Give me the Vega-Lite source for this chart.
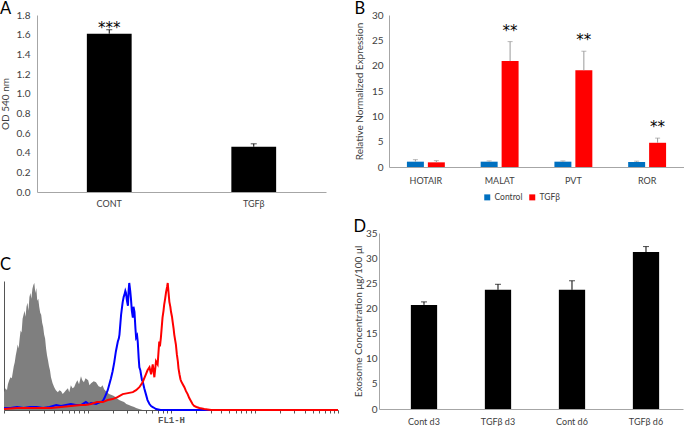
{
  "$schema": "https://vega.github.io/schema/vega-lite/v6.json",
  "padding": 0,
  "background": "white",
  "config": {
    "view": {"stroke": null},
    "font": "Lato",
    "axis": {"labelFont": "Lato", "labelFontSize": 10, "labelColor": "#404040", "labelOverlap": false, "titleFont": "Lato", "titleFontSize": 10, "titleFontWeight": "normal", "titleColor": "#404040", "domainColor": "#a6a6a6", "ticks": false, "grid": false},
    "legend": {"labelFont": "Lato", "labelFontSize": 8.5, "labelColor": "#404040"},
    "title": {"font": "Lato", "fontSize": 16.5, "fontWeight": "normal", "color": "#000000", "anchor": "start", "frame": "bounds", "baseline": "alphabetic", "offset": -7}
  },
  "resolve": {"scale": {"color": "independent"}, "legend": {"color": "independent"}},
  "spacing": 10,
  "vconcat": [
    {
      "spacing": 28,
      "resolve": {"scale": {"color": "independent"}, "legend": {"color": "independent"}},
      "hconcat": [
        {
          "width": 289, "height": 177,
          "title": {"text": "A"},
          "data": {"values": [
            {"group": "CONT", "od": 1.61, "hi": 1.65, "sig": "***"},
            {"group": "TGFβ", "od": 0.46, "hi": 0.49}
          ]},
          "encoding": {
            "x": {"field": "group", "type": "nominal", "sort": null, "scale": {"paddingInner": 0, "paddingOuter": 0}, "axis": {"title": null, "labelAngle": 0, "labelPadding": 7, "labelFontSize": 9}}
          },
          "layer": [
            {"mark": {"type": "bar", "color": "#000000", "width": {"band": 0.31}}, "encoding": {"y": {"field": "od", "type": "quantitative", "scale": {"domain": [0, 1.8], "nice": false}, "axis": {"values": [0, 0.2, 0.4, 0.6, 0.8, 1.0, 1.2, 1.4, 1.6, 1.8], "tickCount": 50, "format": ".1f", "labelOverlap": false, "title": "OD 540 nm", "labelPadding": 7, "titlePadding": 6}}}},
            {"mark": {"type": "rule", "color": "#000000"}, "encoding": {"y": {"field": "od", "type": "quantitative"}, "y2": {"field": "hi"}}},
            {"mark": {"type": "tick", "color": "#000000", "size": 6, "thickness": 1}, "encoding": {"y": {"field": "hi", "type": "quantitative"}}},
            {"transform": [{"filter": "datum.sig"}], "mark": {"type": "text", "font": "DejaVu Sans", "fontSize": 15, "dy": -2}, "encoding": {"y": {"field": "hi", "type": "quantitative"}, "text": {"field": "sig"}}}
          ]
        },
        {
          "width": 295, "height": 152,
          "title": {"text": "B"},
          "data": {"values": [
            {"gene": "HOTAIR", "group": "Control", "val": 1.05, "hi": 1.45},
            {"gene": "HOTAIR", "group": "TGFβ", "val": 0.92, "hi": 1.25},
            {"gene": "MALAT", "group": "Control", "val": 1.05, "hi": 1.2},
            {"gene": "MALAT", "group": "TGFβ", "val": 20.9, "hi": 24.75, "sig": "**"},
            {"gene": "PVT", "group": "Control", "val": 1.05, "hi": 1.2},
            {"gene": "PVT", "group": "TGFβ", "val": 19.1, "hi": 22.85, "sig": "**"},
            {"gene": "ROR", "group": "Control", "val": 1.0, "hi": 1.15},
            {"gene": "ROR", "group": "TGFβ", "val": 4.78, "hi": 5.7, "sig": "**"}
          ]},
          "encoding": {
            "x": {"field": "gene", "type": "nominal", "sort": null, "scale": {"paddingInner": 0, "paddingOuter": 0}, "axis": {"title": null, "labelAngle": 0, "labelPadding": 9, "labelFontSize": 9}},
            "xOffset": {"field": "group", "type": "nominal", "sort": ["Control", "TGFβ"], "scale": {"paddingInner": 0.19, "paddingOuter": 0.855}}
          },
          "layer": [
            {"mark": {"type": "bar"}, "encoding": {
              "y": {"field": "val", "type": "quantitative", "scale": {"domain": [0, 30], "nice": false}, "axis": {"values": [0, 5, 10, 15, 20, 25, 30], "tickCount": 50, "format": "d", "labelOverlap": false, "title": "Relative Normalized Expression", "labelPadding": 6, "titlePadding": 7}},
              "color": {"field": "group", "type": "nominal", "scale": {"domain": ["Control", "TGFβ"], "range": ["#0070C0", "#FF0000"]}, "legend": {"orient": "none", "legendX": 94, "legendY": 178, "direction": "horizontal", "title": null, "symbolType": "square", "symbolSize": 36, "symbolStrokeWidth": 0, "columnPadding": 5, "labelOffset": 3}}
            }},
            {"mark": {"type": "rule", "color": "#9a9a9a"}, "encoding": {"y": {"field": "val", "type": "quantitative"}, "y2": {"field": "hi"}}},
            {"mark": {"type": "tick", "color": "#9a9a9a", "size": 5, "thickness": 1}, "encoding": {"y": {"field": "hi", "type": "quantitative"}}},
            {"transform": [{"filter": "datum.sig"}], "mark": {"type": "text", "font": "DejaVu Sans", "fontSize": 15, "dy": -11}, "encoding": {"y": {"field": "hi", "type": "quantitative"}, "text": {"field": "sig"}}}
          ]
        }
      ]
    },
    {
      "spacing": -18,
      "hconcat": [
        {
          "width": 301, "height": 177,
          "title": {"text": "C", "offset": -40},
          "data": {"values": [
            {"sample": "unstained", "ch": 0, "count": 18}, {"sample": "unstained", "ch": 5, "count": 22}, {"sample": "unstained", "ch": 9, "count": 20}, {"sample": "unstained", "ch": 12, "count": 26},
            {"sample": "unstained", "ch": 16, "count": 30}, {"sample": "unstained", "ch": 20, "count": 33}, {"sample": "unstained", "ch": 24, "count": 32}, {"sample": "unstained", "ch": 27, "count": 38},
            {"sample": "unstained", "ch": 30, "count": 44}, {"sample": "unstained", "ch": 33, "count": 48}, {"sample": "unstained", "ch": 36, "count": 55}, {"sample": "unstained", "ch": 39, "count": 60},
            {"sample": "unstained", "ch": 42, "count": 66}, {"sample": "unstained", "ch": 45, "count": 62}, {"sample": "unstained", "ch": 48, "count": 72}, {"sample": "unstained", "ch": 51, "count": 80},
            {"sample": "unstained", "ch": 54, "count": 78}, {"sample": "unstained", "ch": 57, "count": 92}, {"sample": "unstained", "ch": 60, "count": 96}, {"sample": "unstained", "ch": 63, "count": 100},
            {"sample": "unstained", "ch": 66, "count": 94}, {"sample": "unstained", "ch": 69, "count": 104}, {"sample": "unstained", "ch": 72, "count": 108}, {"sample": "unstained", "ch": 75, "count": 100},
            {"sample": "unstained", "ch": 78, "count": 114}, {"sample": "unstained", "ch": 81, "count": 118}, {"sample": "unstained", "ch": 84, "count": 112}, {"sample": "unstained", "ch": 87, "count": 122},
            {"sample": "unstained", "ch": 90, "count": 126}, {"sample": "unstained", "ch": 93, "count": 128}, {"sample": "unstained", "ch": 96, "count": 118}, {"sample": "unstained", "ch": 99, "count": 123},
            {"sample": "unstained", "ch": 102, "count": 110}, {"sample": "unstained", "ch": 105, "count": 112}, {"sample": "unstained", "ch": 108, "count": 104}, {"sample": "unstained", "ch": 111, "count": 98},
            {"sample": "unstained", "ch": 114, "count": 96}, {"sample": "unstained", "ch": 117, "count": 88}, {"sample": "unstained", "ch": 120, "count": 84}, {"sample": "unstained", "ch": 123, "count": 76},
            {"sample": "unstained", "ch": 126, "count": 72}, {"sample": "unstained", "ch": 129, "count": 62}, {"sample": "unstained", "ch": 132, "count": 55}, {"sample": "unstained", "ch": 135, "count": 50},
            {"sample": "unstained", "ch": 138, "count": 44}, {"sample": "unstained", "ch": 141, "count": 40}, {"sample": "unstained", "ch": 144, "count": 33}, {"sample": "unstained", "ch": 149, "count": 27},
            {"sample": "unstained", "ch": 154, "count": 23}, {"sample": "unstained", "ch": 159, "count": 20}, {"sample": "unstained", "ch": 165, "count": 18}, {"sample": "unstained", "ch": 170, "count": 20},
            {"sample": "unstained", "ch": 175, "count": 19}, {"sample": "unstained", "ch": 180, "count": 16}, {"sample": "unstained", "ch": 185, "count": 18}, {"sample": "unstained", "ch": 190, "count": 20},
            {"sample": "unstained", "ch": 196, "count": 22}, {"sample": "unstained", "ch": 200, "count": 18}, {"sample": "unstained", "ch": 205, "count": 25}, {"sample": "unstained", "ch": 210, "count": 22},
            {"sample": "unstained", "ch": 215, "count": 23}, {"sample": "unstained", "ch": 220, "count": 27}, {"sample": "unstained", "ch": 225, "count": 30}, {"sample": "unstained", "ch": 230, "count": 26},
            {"sample": "unstained", "ch": 236, "count": 34}, {"sample": "unstained", "ch": 240, "count": 30}, {"sample": "unstained", "ch": 245, "count": 28}, {"sample": "unstained", "ch": 250, "count": 32},
            {"sample": "unstained", "ch": 258, "count": 30}, {"sample": "unstained", "ch": 262, "count": 25}, {"sample": "unstained", "ch": 267, "count": 27}, {"sample": "unstained", "ch": 275, "count": 29},
            {"sample": "unstained", "ch": 282, "count": 28}, {"sample": "unstained", "ch": 290, "count": 24}, {"sample": "unstained", "ch": 297, "count": 23}, {"sample": "unstained", "ch": 302, "count": 25},
            {"sample": "unstained", "ch": 307, "count": 21}, {"sample": "unstained", "ch": 315, "count": 18}, {"sample": "unstained", "ch": 322, "count": 16}, {"sample": "unstained", "ch": 330, "count": 15},
            {"sample": "unstained", "ch": 337, "count": 14}, {"sample": "unstained", "ch": 345, "count": 12}, {"sample": "unstained", "ch": 353, "count": 10}, {"sample": "unstained", "ch": 360, "count": 9},
            {"sample": "unstained", "ch": 368, "count": 8}, {"sample": "unstained", "ch": 375, "count": 6}, {"sample": "unstained", "ch": 383, "count": 5}, {"sample": "unstained", "ch": 390, "count": 4},
            {"sample": "unstained", "ch": 399, "count": 3}, {"sample": "unstained", "ch": 405, "count": 2}, {"sample": "unstained", "ch": 414, "count": 1}, {"sample": "unstained", "ch": 425, "count": 0},

            {"sample": "control", "ch": 0, "count": 2}, {"sample": "control", "ch": 20, "count": 2}, {"sample": "control", "ch": 40, "count": 3}, {"sample": "control", "ch": 60, "count": 2},
            {"sample": "control", "ch": 80, "count": 3}, {"sample": "control", "ch": 100, "count": 3}, {"sample": "control", "ch": 120, "count": 2}, {"sample": "control", "ch": 140, "count": 3},
            {"sample": "control", "ch": 160, "count": 5}, {"sample": "control", "ch": 175, "count": 4}, {"sample": "control", "ch": 190, "count": 5}, {"sample": "control", "ch": 205, "count": 6},
            {"sample": "control", "ch": 220, "count": 5}, {"sample": "control", "ch": 236, "count": 5}, {"sample": "control", "ch": 251, "count": 8}, {"sample": "control", "ch": 260, "count": 6},
            {"sample": "control", "ch": 267, "count": 7}, {"sample": "control", "ch": 282, "count": 6}, {"sample": "control", "ch": 295, "count": 8}, {"sample": "control", "ch": 303, "count": 9},
            {"sample": "control", "ch": 308, "count": 12}, {"sample": "control", "ch": 313, "count": 16}, {"sample": "control", "ch": 318, "count": 20}, {"sample": "control", "ch": 323, "count": 26},
            {"sample": "control", "ch": 328, "count": 32}, {"sample": "control", "ch": 333, "count": 39}, {"sample": "control", "ch": 338, "count": 48}, {"sample": "control", "ch": 343, "count": 59},
            {"sample": "control", "ch": 346, "count": 64}, {"sample": "control", "ch": 349, "count": 69}, {"sample": "control", "ch": 352, "count": 72}, {"sample": "control", "ch": 354, "count": 76},
            {"sample": "control", "ch": 357, "count": 88}, {"sample": "control", "ch": 359, "count": 96}, {"sample": "control", "ch": 362, "count": 104}, {"sample": "control", "ch": 364, "count": 109},
            {"sample": "control", "ch": 367, "count": 114}, {"sample": "control", "ch": 369, "count": 116}, {"sample": "control", "ch": 372, "count": 120}, {"sample": "control", "ch": 374, "count": 118},
            {"sample": "control", "ch": 377, "count": 110}, {"sample": "control", "ch": 380, "count": 105}, {"sample": "control", "ch": 382, "count": 120}, {"sample": "control", "ch": 384, "count": 128},
            {"sample": "control", "ch": 387, "count": 120}, {"sample": "control", "ch": 389, "count": 113}, {"sample": "control", "ch": 392, "count": 100}, {"sample": "control", "ch": 395, "count": 93},
            {"sample": "control", "ch": 397, "count": 104}, {"sample": "control", "ch": 400, "count": 99}, {"sample": "control", "ch": 403, "count": 82}, {"sample": "control", "ch": 405, "count": 73},
            {"sample": "control", "ch": 408, "count": 75}, {"sample": "control", "ch": 410, "count": 69}, {"sample": "control", "ch": 413, "count": 52}, {"sample": "control", "ch": 415, "count": 43},
            {"sample": "control", "ch": 418, "count": 40}, {"sample": "control", "ch": 420, "count": 36}, {"sample": "control", "ch": 423, "count": 30}, {"sample": "control", "ch": 425, "count": 29},
            {"sample": "control", "ch": 430, "count": 22}, {"sample": "control", "ch": 435, "count": 16}, {"sample": "control", "ch": 440, "count": 10}, {"sample": "control", "ch": 446, "count": 6},
            {"sample": "control", "ch": 451, "count": 4}, {"sample": "control", "ch": 456, "count": 3}, {"sample": "control", "ch": 461, "count": 2}, {"sample": "control", "ch": 466, "count": 1},
            {"sample": "control", "ch": 480, "count": 0}, {"sample": "control", "ch": 1024, "count": 0},

            {"sample": "TGFβ", "ch": 0, "count": 1}, {"sample": "TGFβ", "ch": 40, "count": 2}, {"sample": "TGFβ", "ch": 83, "count": 2}, {"sample": "TGFβ", "ch": 120, "count": 2},
            {"sample": "TGFβ", "ch": 144, "count": 2}, {"sample": "TGFβ", "ch": 175, "count": 3}, {"sample": "TGFβ", "ch": 205, "count": 4}, {"sample": "TGFβ", "ch": 236, "count": 5},
            {"sample": "TGFβ", "ch": 250, "count": 5}, {"sample": "TGFβ", "ch": 267, "count": 6}, {"sample": "TGFβ", "ch": 285, "count": 8}, {"sample": "TGFβ", "ch": 303, "count": 8},
            {"sample": "TGFβ", "ch": 318, "count": 10}, {"sample": "TGFβ", "ch": 333, "count": 11}, {"sample": "TGFβ", "ch": 348, "count": 13}, {"sample": "TGFβ", "ch": 364, "count": 16},
            {"sample": "TGFβ", "ch": 380, "count": 17}, {"sample": "TGFβ", "ch": 395, "count": 18}, {"sample": "TGFβ", "ch": 405, "count": 20}, {"sample": "TGFβ", "ch": 415, "count": 23},
            {"sample": "TGFβ", "ch": 425, "count": 28}, {"sample": "TGFβ", "ch": 435, "count": 36}, {"sample": "TGFβ", "ch": 440, "count": 40}, {"sample": "TGFβ", "ch": 446, "count": 43},
            {"sample": "TGFβ", "ch": 451, "count": 36}, {"sample": "TGFβ", "ch": 456, "count": 46}, {"sample": "TGFβ", "ch": 461, "count": 33}, {"sample": "TGFβ", "ch": 466, "count": 49},
            {"sample": "TGFβ", "ch": 471, "count": 46}, {"sample": "TGFβ", "ch": 476, "count": 69}, {"sample": "TGFβ", "ch": 478, "count": 64}, {"sample": "TGFβ", "ch": 481, "count": 73},
            {"sample": "TGFβ", "ch": 484, "count": 85}, {"sample": "TGFβ", "ch": 486, "count": 93}, {"sample": "TGFβ", "ch": 489, "count": 100}, {"sample": "TGFβ", "ch": 491, "count": 106},
            {"sample": "TGFβ", "ch": 494, "count": 112}, {"sample": "TGFβ", "ch": 497, "count": 119}, {"sample": "TGFβ", "ch": 500, "count": 124}, {"sample": "TGFβ", "ch": 502, "count": 128},
            {"sample": "TGFβ", "ch": 504, "count": 120}, {"sample": "TGFβ", "ch": 507, "count": 109}, {"sample": "TGFβ", "ch": 510, "count": 104}, {"sample": "TGFβ", "ch": 512, "count": 99},
            {"sample": "TGFβ", "ch": 515, "count": 94}, {"sample": "TGFβ", "ch": 517, "count": 89}, {"sample": "TGFβ", "ch": 520, "count": 82}, {"sample": "TGFβ", "ch": 522, "count": 76},
            {"sample": "TGFβ", "ch": 525, "count": 70}, {"sample": "TGFβ", "ch": 527, "count": 66}, {"sample": "TGFβ", "ch": 530, "count": 56}, {"sample": "TGFβ", "ch": 533, "count": 49},
            {"sample": "TGFβ", "ch": 535, "count": 42}, {"sample": "TGFβ", "ch": 538, "count": 36}, {"sample": "TGFβ", "ch": 541, "count": 31}, {"sample": "TGFβ", "ch": 543, "count": 29},
            {"sample": "TGFβ", "ch": 548, "count": 26}, {"sample": "TGFβ", "ch": 553, "count": 23}, {"sample": "TGFβ", "ch": 558, "count": 19}, {"sample": "TGFβ", "ch": 563, "count": 16},
            {"sample": "TGFβ", "ch": 568, "count": 12}, {"sample": "TGFβ", "ch": 573, "count": 9}, {"sample": "TGFβ", "ch": 578, "count": 6}, {"sample": "TGFβ", "ch": 583, "count": 4},
            {"sample": "TGFβ", "ch": 590, "count": 3}, {"sample": "TGFβ", "ch": 599, "count": 2}, {"sample": "TGFβ", "ch": 614, "count": 1}, {"sample": "TGFβ", "ch": 635, "count": 0},
            {"sample": "TGFβ", "ch": 1024, "count": 0}
          ]},
          "encoding": {
            "x": {"field": "ch", "type": "quantitative", "scale": {"domain": [0, 1024], "range": [-33, 301], "nice": false, "zero": false},
              "axis": {"values": [0, 77, 122, 154, 179, 199, 216, 231, 244, 256, 333, 378, 410, 435, 455, 472, 487, 500, 512, 589, 634, 666, 691, 711, 728, 743, 756, 768, 845, 890, 922, 947, 967, 984, 999, 1012, 1024], "tickCount": 100,
                "labels": false, "ticks": true, "tickSize": 3, "tickColor": "#555555", "domainColor": "#555555", "title": "FL1-H", "titleFont": "Liberation Mono", "titleFontSize": 9, "titleFontWeight": "bold", "titleColor": "#555555", "titlePadding": 2}},
            "y": {"field": "count", "type": "quantitative", "scale": {"domain": [0, 130], "range": [177, 48], "nice": false}, "axis": {"labels": false, "ticks": false, "title": null, "domainColor": "#555555", "offset": 33}}
          },
          "layer": [
            {"transform": [{"filter": "datum.sample == 'unstained'"}], "mark": {"type": "area", "color": "#7f7f7f", "opacity": 1}},
            {"transform": [{"filter": "datum.sample == 'control'"}], "mark": {"type": "line", "color": "#0000ff", "strokeWidth": 2}},
            {"transform": [{"filter": "datum.sample == 'TGFβ'"}], "mark": {"type": "line", "color": "#ff0000", "strokeWidth": 2}}
          ]
        },
        {
          "width": 304, "height": 176,
          "title": {"text": "D"},
          "data": {"values": [
            {"group": "Cont d3", "conc": 20.7, "hi": 21.3},
            {"group": "TGFβ d3", "conc": 23.7, "hi": 24.8},
            {"group": "Cont d6", "conc": 23.7, "hi": 25.5},
            {"group": "TGFβ d6", "conc": 31.2, "hi": 32.3}
          ]},
          "encoding": {
            "x": {"field": "group", "type": "nominal", "sort": null, "scale": {"paddingInner": 0, "paddingOuter": 0.054, "align": 1}, "axis": {"title": null, "labelAngle": 0, "labelPadding": 8, "labelFontSize": 9}}
          },
          "layer": [
            {"mark": {"type": "bar", "color": "#000000", "width": {"band": 0.355}}, "encoding": {"y": {"field": "conc", "type": "quantitative", "scale": {"domain": [0, 35], "nice": false}, "axis": {"values": [0, 5, 10, 15, 20, 25, 30, 35], "tickCount": 50, "format": "d", "labelOverlap": false, "title": "Exosome Concentration μg/100 μl", "labelPadding": 2, "titlePadding": 2}}}},
            {"mark": {"type": "rule", "color": "#000000"}, "encoding": {"y": {"field": "conc", "type": "quantitative"}, "y2": {"field": "hi"}}},
            {"mark": {"type": "tick", "color": "#000000", "size": 6, "thickness": 1}, "encoding": {"y": {"field": "hi", "type": "quantitative"}}}
          ]
        }
      ]
    }
  ]
}
